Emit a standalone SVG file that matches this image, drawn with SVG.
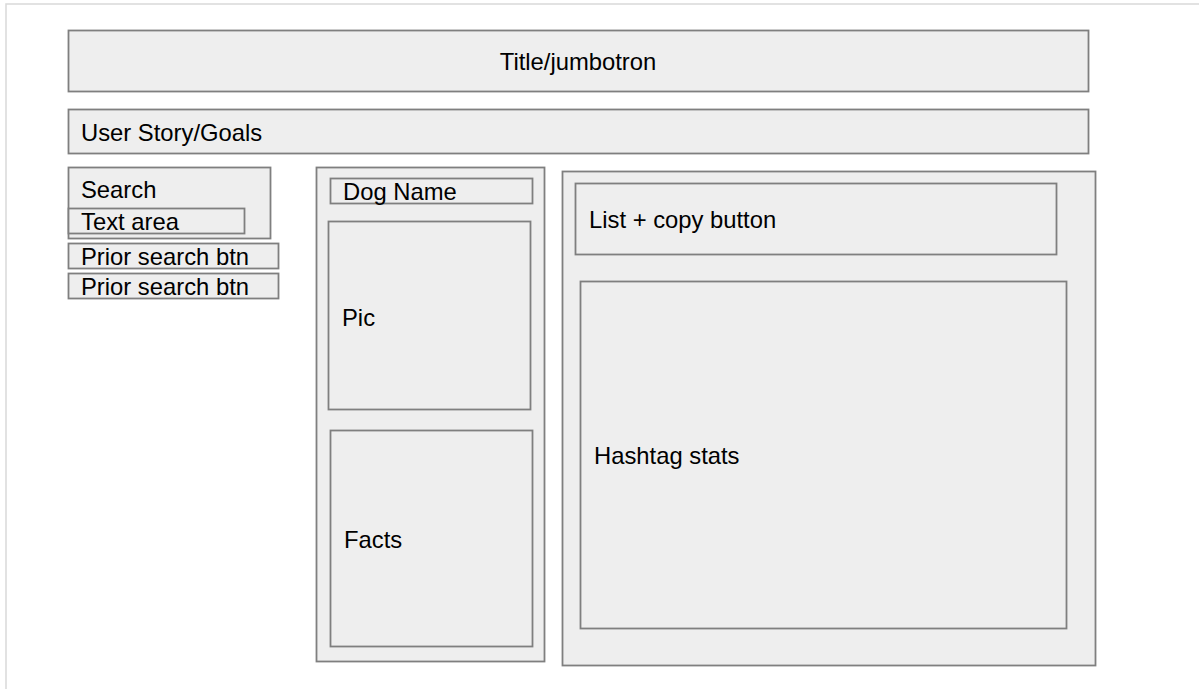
<svg xmlns="http://www.w3.org/2000/svg" width="1199" height="689" viewBox="0 0 1199 689">
<style>
.b{fill:#eeeeee;stroke:#7f7f7f;stroke-width:1.8}
.t{font-family:"Liberation Sans",Arial,sans-serif;font-size:23.8px;fill:#000}
</style>
<rect x="0" y="0" width="1199" height="689" fill="#ffffff"/>
<rect x="6" y="4" width="1200" height="700" fill="#ffffff" stroke="#d9d9d9" stroke-width="1.5"/>
<g id="title"><rect class="b" x="68.5" y="30.5" width="1020" height="61"/><text class="t" x="578" y="70" text-anchor="middle">Title/jumbotron</text></g>
<g id="userstory"><rect class="b" x="68.5" y="109.5" width="1020" height="44"/><text class="t" x="81" y="141">User Story/Goals</text></g>
<g id="search"><rect class="b" x="68.5" y="167.5" width="202" height="71"/><text class="t" x="81" y="198">Search</text></g>
<g id="textarea"><rect class="b" x="68.5" y="208.5" width="176" height="25"/><text class="t" x="81" y="230">Text area</text></g>
<g id="prior1"><rect class="b" x="68.5" y="243.5" width="210" height="25"/><text class="t" x="81" y="265">Prior search btn</text></g>
<g id="prior2"><rect class="b" x="68.5" y="273.5" width="210" height="25"/><text class="t" x="81" y="295">Prior search btn</text></g>
<g id="dogcol"><rect class="b" x="316.5" y="167.5" width="228" height="494"/></g>
<g id="dogname"><rect class="b" x="330.5" y="178.5" width="202" height="25"/><text class="t" x="343" y="200">Dog Name</text></g>
<g id="pic"><rect class="b" x="328.5" y="221.5" width="202" height="188"/><text class="t" x="342" y="326">Pic</text></g>
<g id="facts"><rect class="b" x="330.5" y="430.5" width="202" height="216"/><text class="t" x="344" y="548">Facts</text></g>
<g id="rightcol"><rect class="b" x="562.5" y="171.5" width="533" height="494"/></g>
<g id="list"><rect class="b" x="575.5" y="183.5" width="481" height="71"/><text class="t" x="589" y="228">List + copy button</text></g>
<g id="hashtag"><rect class="b" x="580.5" y="281.5" width="486" height="347"/><text class="t" x="594" y="464">Hashtag stats</text></g>
<g id="connectors"></g>
</svg>
